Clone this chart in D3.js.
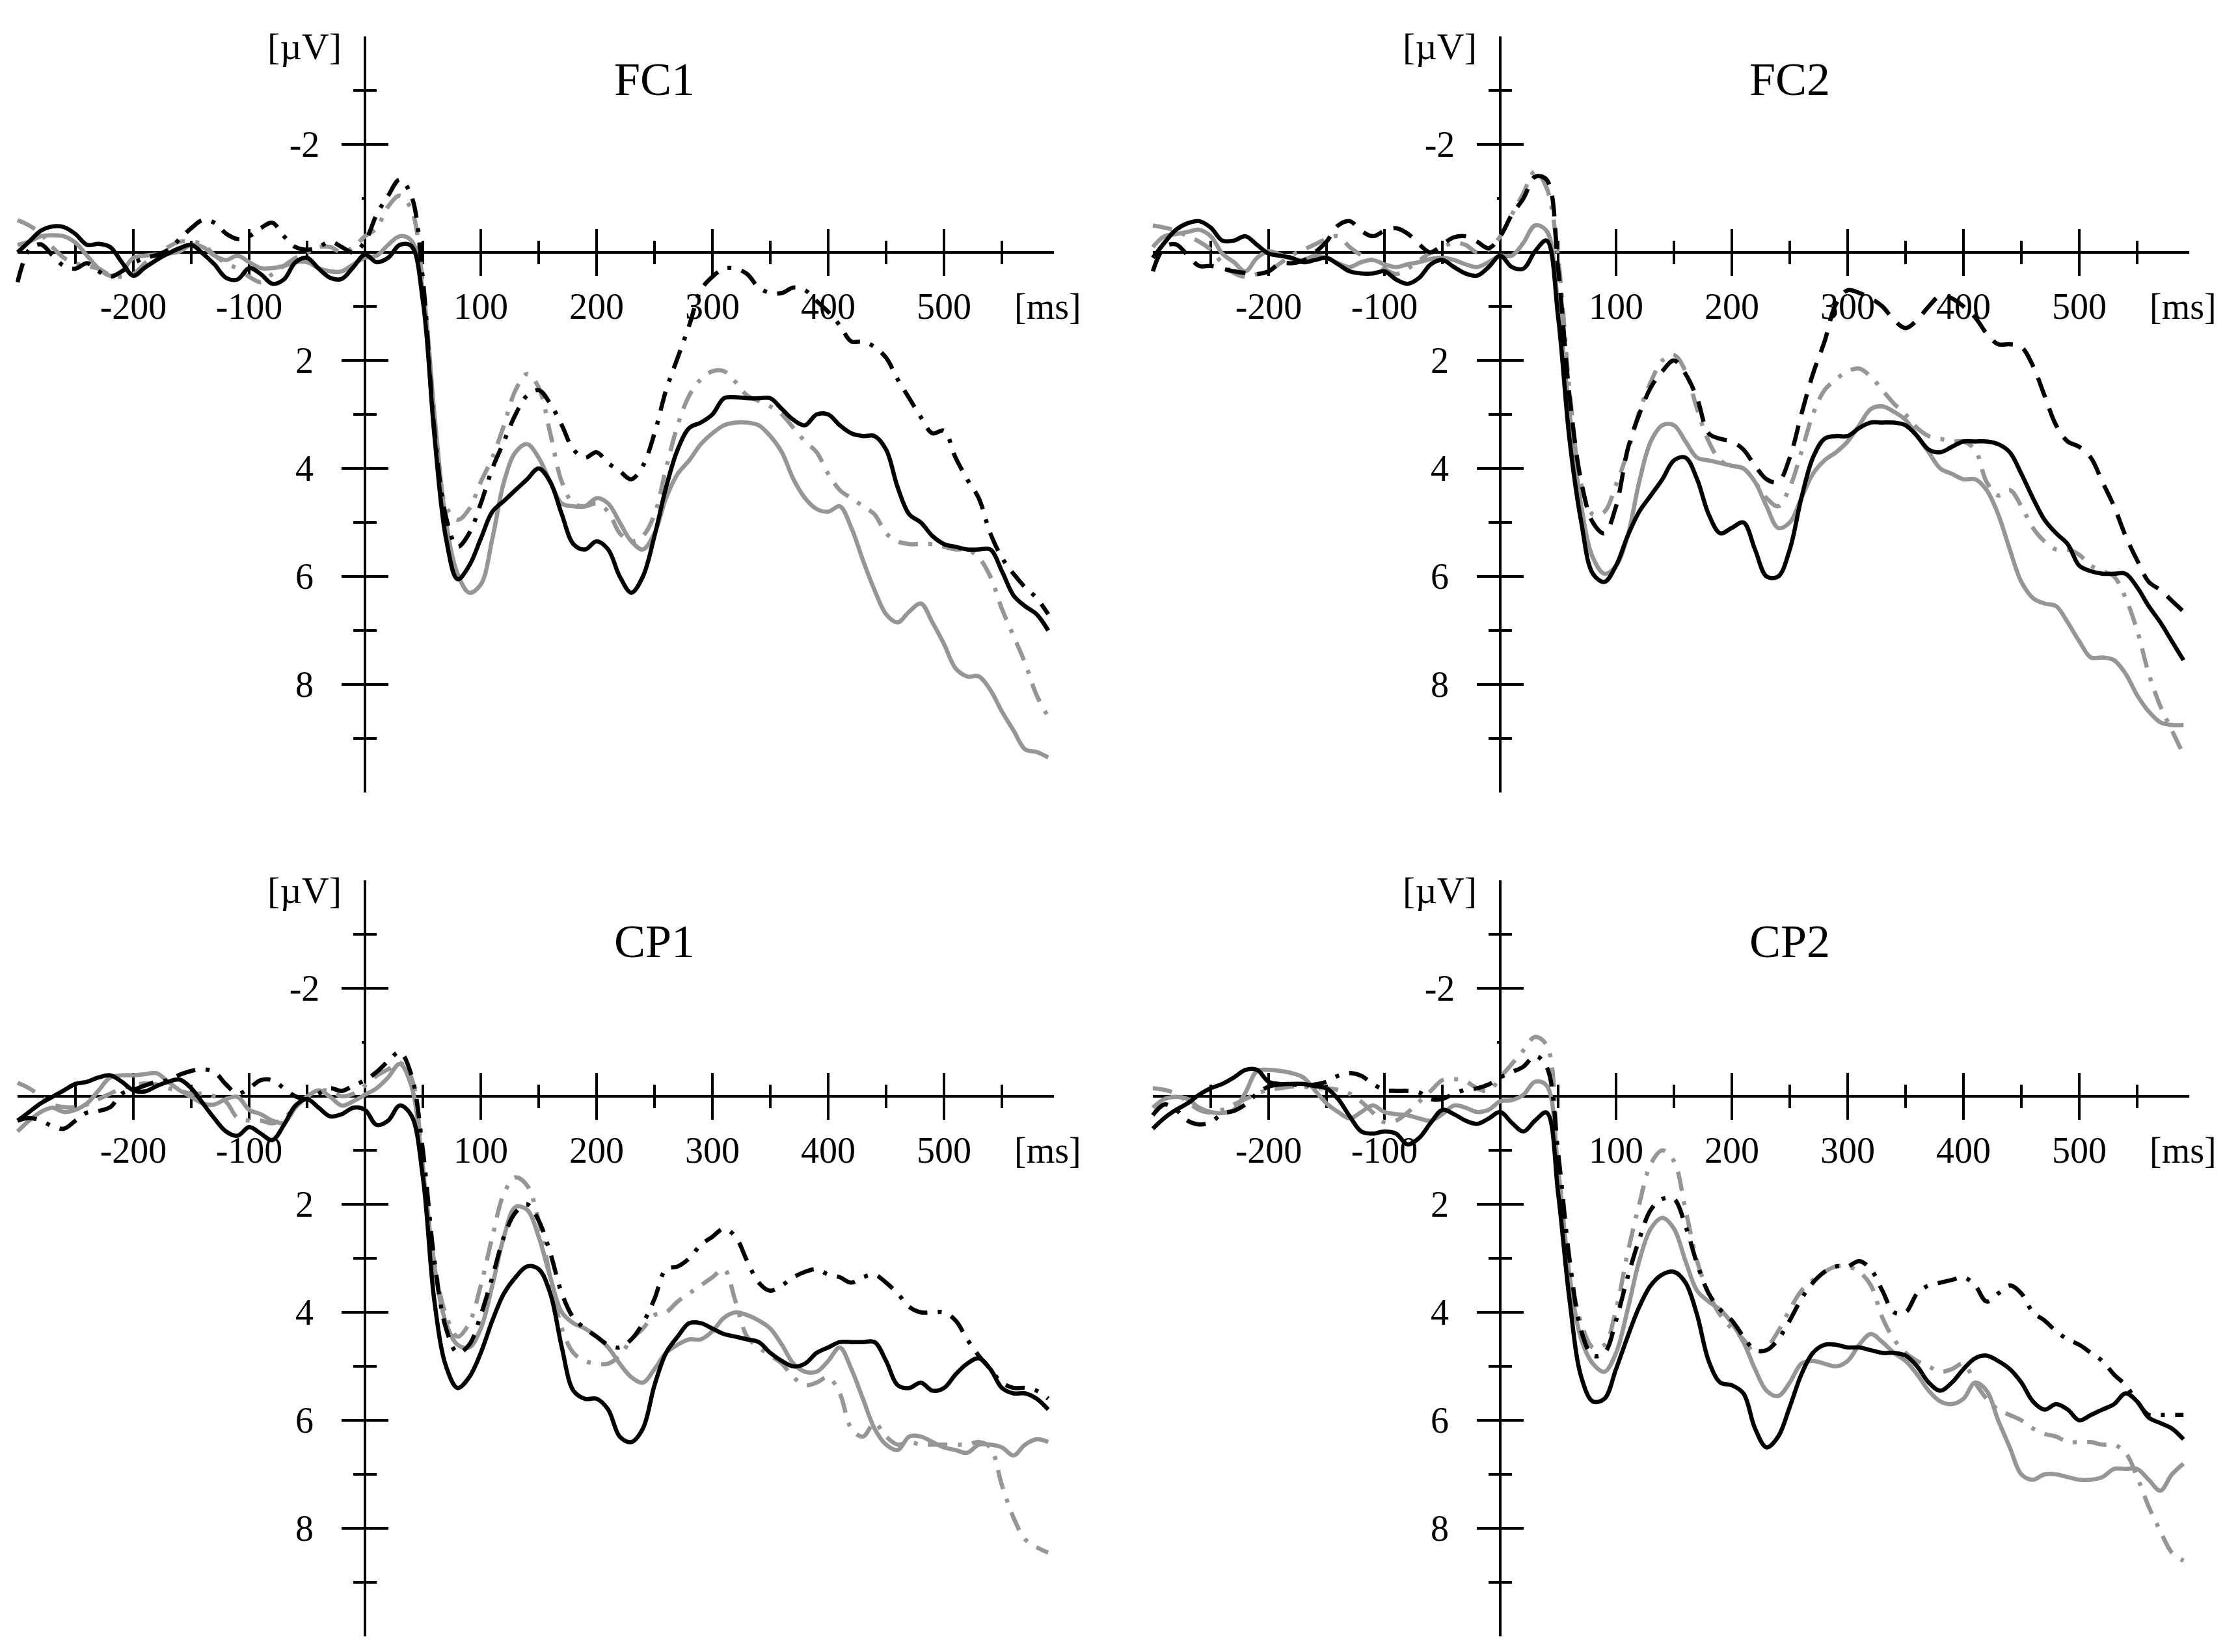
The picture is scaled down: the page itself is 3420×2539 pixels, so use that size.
<!DOCTYPE html>
<html>
<head>
<meta charset="utf-8">
<script src="https://cdn.jsdelivr.net/npm/d3@7/dist/d3.min.js"></script>
<style>
  html, body { margin: 0; padding: 0; background: #fff; }
  svg { display: block; }
  text { font-family: "Liberation Serif", "Times New Roman", serif; fill: #000; }
</style>
</head>
<body>
<svg id="chart" width="3420" height="2539"></svg>
<script>
// ---------- data ----------
const times = [-300,-290,-280,-270,-260,-250,-240,-230,-220,-210,-200,-190,-180,-170,-160,-150,-140,-130,-120,-110,-100,-90,-80,-70,-60,-50,-40,-30,-20,-10,0,10,20,30,40,50,60,70,80,90,100,110,120,130,140,150,160,170,180,190,200,210,220,230,240,250,260,270,280,290,300,310,320,330,340,350,360,370,380,390,400,410,420,430,440,450,460,470,480,490,500,510,520,530,540,550,560,570,580,590];

const xMajorTicks = [-200, -100, 100, 200, 300, 400, 500];
const xMinorTicks = [-250, -150, -50, 50, 150, 250, 350, 450, 550];
const yMajorTicks = [-2, 2, 4, 6, 8];
const yMinorTicks = [-3, 1, 3, 5, 7, 9];

const panelTitles = ["FC1", "FC2", "CP1", "CP2"];

// FC1
const fc1BlackSolid = [0.0,-0.2,-0.4,-0.48,-0.47,-0.34,-0.14,-0.16,-0.1,0.18,0.43,0.28,0.14,0.02,-0.08,-0.14,0.02,0.22,0.47,0.5,0.29,0.4,0.58,0.5,0.18,0.1,0.3,0.47,0.49,0.27,0.04,0.18,0.1,-0.14,-0.12,
  0.9,3.4,5.3,6.05,5.8,5.3,4.8,4.6,4.4,4.2,4.0,4.25,4.85,5.4,5.5,5.35,5.5,6.0,6.3,6.0,5.25,4.35,3.65,3.25,3.15,3.0,2.7,2.68,2.7,2.7,2.7,2.9,3.1,3.2,3.0,3.0,3.2,3.35,3.4,3.4,3.65,4.35,4.85,5.0,5.25,5.4,5.45,5.5,5.5,5.5,5.9,6.35,6.55,6.7,7.0];
const fc1GraySolid = [-0.14,-0.2,-0.3,-0.32,-0.3,-0.18,0.06,0.3,0.43,0.35,0.1,0.06,0.04,0.02,-0.02,-0.14,-0.1,0.06,0.14,0.06,0.18,0.29,0.29,0.25,0.18,0.18,0.29,0.35,0.35,0.22,0.1,0.06,-0.14,-0.3,-0.22,
  0.7,3.0,5.0,5.95,6.3,6.15,5.3,4.25,3.7,3.55,3.8,4.25,4.65,4.7,4.7,4.55,4.65,5.0,5.35,5.5,5.2,4.55,4.1,3.85,3.55,3.35,3.2,3.15,3.15,3.2,3.4,3.7,4.2,4.55,4.75,4.8,4.7,5.1,5.7,6.25,6.7,6.85,6.65,6.5,6.85,7.25,7.7,7.85,7.85,8.1,8.5,8.85,9.2,9.25,9.35];
const fc1BlackDash = [0.55,-0.05,-0.15,0.05,0.25,0.3,0.2,0.35,0.45,0.35,0.2,0.1,0.05,-0.05,-0.25,-0.45,-0.6,-0.55,-0.35,-0.25,-0.3,-0.45,-0.55,-0.3,-0.1,-0.05,-0.1,-0.2,-0.1,0.0,-0.2,-0.7,-1.05,-1.35,-1.05,
  0.5,3.3,4.9,5.45,5.2,4.65,4.0,3.5,3.0,2.65,2.55,2.8,3.2,3.65,3.8,3.7,3.9,4.05,4.2,3.95,3.35,2.55,1.95,1.35,0.7,0.45,0.3,0.3,0.4,0.65,0.75,0.75,0.65,0.7,0.9,1.1,1.35,1.65,1.65,1.75,1.95,2.35,2.7,3.05,3.35,3.3,3.8,4.2,4.55,5.2,5.65,5.95,6.2,6.4,6.7];
const fc1GrayDash = [-0.6,-0.5,-0.35,-0.1,0.1,0.2,0.25,0.3,0.42,0.45,0.4,0.2,0.05,-0.1,-0.2,-0.2,-0.15,0.05,0.2,0.3,0.45,0.55,0.4,0.25,0.1,0.0,-0.1,-0.1,0.0,-0.1,-0.3,-0.45,-0.85,-1.05,-0.8,
  0.6,3.2,4.7,4.95,4.75,4.25,3.8,3.2,2.55,2.25,2.5,3.35,4.25,4.65,4.7,4.65,4.8,5.2,5.35,5.25,4.85,4.0,3.2,2.65,2.35,2.2,2.2,2.4,2.65,2.75,2.85,3.0,3.25,3.5,3.7,4.1,4.4,4.55,4.7,4.85,5.2,5.35,5.4,5.4,5.4,5.45,5.5,5.5,5.65,6.0,6.6,7.1,7.6,8.2,8.6];

// FC2
const fc2BlackSolid = [0.1,-0.18,-0.42,-0.54,-0.58,-0.46,-0.22,-0.22,-0.3,-0.14,0.02,0.06,0.1,0.18,0.14,0.1,0.22,0.35,0.39,0.39,0.35,0.5,0.58,0.47,0.22,0.14,0.27,0.39,0.43,0.27,0.06,0.27,0.3,-0.02,-0.22,
  1.2,3.5,5.0,5.95,6.1,5.8,5.25,4.8,4.5,4.2,3.85,3.8,4.2,4.85,5.2,5.1,5.0,5.5,6.0,6.0,5.5,4.55,3.8,3.45,3.4,3.4,3.25,3.15,3.15,3.15,3.2,3.4,3.65,3.7,3.6,3.5,3.5,3.5,3.55,3.7,4.1,4.55,4.95,5.2,5.4,5.8,5.9,5.95,5.95,5.95,6.2,6.55,6.85,7.2,7.55];
const fc2GraySolid = [-0.1,-0.3,-0.34,-0.38,-0.42,-0.3,0.02,0.18,0.35,0.1,-0.02,0.04,0.12,0.14,0.06,0.1,0.2,0.27,0.18,0.14,0.22,0.27,0.22,0.18,0.12,0.1,0.14,0.22,0.27,0.18,0.06,0.06,-0.18,-0.5,-0.4,
  1.0,3.0,4.7,5.65,5.95,5.8,5.25,4.25,3.5,3.2,3.2,3.5,3.8,3.85,3.9,3.95,4.0,4.25,4.7,5.1,5.0,4.55,4.1,3.85,3.7,3.5,3.2,2.9,2.85,2.95,3.1,3.4,3.7,4.0,4.1,4.2,4.2,4.4,4.85,5.5,6.1,6.4,6.5,6.55,6.85,7.2,7.5,7.5,7.55,7.8,8.2,8.5,8.7,8.75,8.75];
const fc2BlackDash = [0.35,-0.1,-0.15,0.05,0.25,0.25,0.3,0.35,0.38,0.4,0.35,0.2,0.2,0.15,0.0,-0.2,-0.5,-0.58,-0.4,-0.3,-0.4,-0.45,-0.35,-0.15,0.0,-0.15,-0.28,-0.3,-0.2,-0.08,-0.3,-0.7,-1.0,-1.4,-1.35,
  0.3,2.7,4.25,5.0,5.2,4.7,3.65,3.0,2.5,2.2,2.0,2.25,2.7,3.35,3.45,3.5,3.65,3.95,4.2,4.25,3.8,3.0,2.25,1.65,0.95,0.7,0.75,0.85,1.0,1.25,1.4,1.25,1.0,0.8,0.85,1.0,1.2,1.5,1.7,1.7,1.75,2.1,2.65,3.2,3.5,3.6,3.8,4.25,4.7,5.25,5.7,6.1,6.25,6.45,6.65];
const fc2GrayDash = [-0.5,-0.46,-0.4,-0.3,-0.2,-0.05,0.2,0.38,0.45,0.4,0.35,0.2,0.05,-0.05,-0.15,-0.25,-0.3,-0.1,0.05,0.15,0.3,0.4,0.3,0.15,0.0,-0.1,-0.18,-0.14,0.0,-0.05,-0.3,-0.7,-1.1,-1.5,-1.2,
  0.1,2.6,4.3,4.85,4.8,4.3,3.7,2.95,2.4,2.0,1.9,2.2,2.9,3.5,3.85,3.95,4.0,4.25,4.55,4.7,4.35,3.7,3.0,2.55,2.35,2.2,2.15,2.3,2.55,2.8,3.0,3.25,3.4,3.45,3.5,3.5,3.65,4.25,4.5,4.4,4.7,5.1,5.35,5.5,5.5,5.6,5.8,5.9,6.0,6.4,7.0,7.8,8.4,8.85,9.3];

// CP1
const cp1BlackSolid = [0.45,0.29,0.13,0.01,-0.11,-0.23,-0.27,-0.35,-0.39,-0.27,-0.11,-0.09,-0.19,-0.27,-0.31,-0.15,0.13,0.41,0.65,0.73,0.57,0.69,0.81,0.53,0.17,0.05,0.21,0.37,0.33,0.21,0.25,0.53,0.45,0.17,0.35,
  1.5,3.8,5.0,5.4,5.2,4.75,4.15,3.65,3.35,3.15,3.2,3.65,4.65,5.45,5.6,5.6,5.8,6.3,6.4,6.15,5.35,4.75,4.45,4.2,4.2,4.3,4.4,4.45,4.5,4.55,4.75,4.9,5.0,4.95,4.75,4.65,4.55,4.55,4.55,4.55,4.9,5.35,5.4,5.3,5.45,5.4,5.15,4.95,4.85,5.05,5.4,5.5,5.5,5.6,5.8];
const cp1GraySolid = [0.65,0.45,0.29,0.21,0.29,0.25,0.13,-0.11,-0.35,-0.39,-0.39,-0.41,-0.43,-0.27,-0.11,0.01,0.13,0.15,0.05,0.01,0.25,0.33,0.45,0.49,0.21,0.01,-0.11,0.01,0.17,0.09,-0.03,-0.15,-0.35,-0.6,-0.2,
  1.35,3.15,4.2,4.6,4.65,4.3,3.5,2.6,2.05,2.1,2.6,3.35,4.0,4.2,4.3,4.45,4.65,4.95,5.2,5.3,5.05,4.75,4.6,4.5,4.5,4.35,4.1,4.0,4.05,4.15,4.3,4.6,4.95,5.1,5.1,4.9,4.65,5.05,5.6,6.15,6.45,6.55,6.3,6.3,6.4,6.5,6.55,6.6,6.45,6.45,6.5,6.65,6.45,6.35,6.4];
const cp1BlackDash = [0.45,0.4,0.45,0.55,0.6,0.45,0.3,0.27,0.2,-0.05,-0.12,-0.2,-0.27,-0.3,-0.4,-0.47,-0.5,-0.45,-0.22,-0.05,-0.15,-0.3,-0.3,-0.15,0.0,0.05,-0.05,-0.15,-0.1,-0.2,-0.3,-0.45,-0.65,-0.82,-0.4,
  1.0,3.05,4.3,4.75,4.6,4.05,3.35,2.6,2.15,2.0,2.3,2.9,3.65,4.1,4.3,4.45,4.6,4.65,4.5,4.2,3.75,3.2,3.15,3.0,2.75,2.6,2.45,2.6,3.05,3.45,3.6,3.5,3.35,3.25,3.2,3.3,3.35,3.45,3.35,3.3,3.45,3.65,3.9,4.0,4.0,4.0,4.15,4.5,4.8,5.05,5.3,5.4,5.4,5.45,5.6];
const cp1GrayDash = [-0.25,-0.15,0.0,0.15,0.2,0.2,0.15,0.05,-0.05,-0.15,-0.2,-0.24,-0.22,-0.15,-0.1,-0.05,-0.05,0.0,0.1,0.4,0.45,0.45,0.5,0.4,0.2,0.0,-0.1,-0.1,0.0,-0.05,-0.2,-0.38,-0.5,-0.62,-0.35,
  1.3,3.1,4.05,4.45,4.2,3.5,2.6,1.8,1.5,1.65,2.3,3.35,4.3,4.75,4.9,4.95,4.95,4.8,4.5,4.3,4.05,4.0,3.8,3.65,3.5,3.35,3.2,3.8,4.45,4.65,4.8,4.95,5.2,5.35,5.3,5.2,5.5,6.15,6.3,6.05,6.3,6.45,6.4,6.45,6.45,6.45,6.45,6.45,6.4,6.5,7.2,7.8,8.2,8.35,8.45];

// CP2
const cp2BlackSolid = [0.6,0.4,0.25,0.13,-0.03,-0.15,-0.23,-0.35,-0.49,-0.49,-0.27,-0.23,-0.23,-0.23,-0.19,-0.15,0.05,0.37,0.65,0.69,0.65,0.69,0.89,0.77,0.49,0.25,0.33,0.45,0.51,0.41,0.29,0.49,0.65,0.45,0.3,
  1.8,3.8,5.2,5.65,5.6,5.05,4.45,3.9,3.5,3.3,3.25,3.45,4.05,4.9,5.3,5.35,5.5,6.15,6.5,6.3,5.75,5.15,4.75,4.6,4.6,4.65,4.65,4.7,4.75,4.75,4.8,5.0,5.3,5.45,5.3,5.05,4.85,4.8,4.9,5.05,5.3,5.65,5.8,5.7,5.8,6.0,5.9,5.8,5.7,5.5,5.65,5.95,6.05,6.15,6.35];
const cp2GraySolid = [0.21,0.05,0.01,0.05,0.21,0.29,0.31,0.25,-0.07,-0.47,-0.49,-0.47,-0.43,-0.35,-0.11,0.13,0.29,0.41,0.29,0.17,0.29,0.33,0.35,0.41,0.45,0.33,0.17,0.21,0.29,0.25,0.09,0.07,-0.03,-0.27,-0.2,
  1.35,3.35,4.5,4.95,5.1,4.75,3.95,3.05,2.45,2.25,2.45,3.05,3.6,3.8,3.95,4.2,4.55,5.05,5.45,5.55,5.3,4.95,4.9,4.95,5.0,4.9,4.6,4.4,4.55,4.75,4.9,5.15,5.45,5.65,5.7,5.6,5.3,5.45,6.0,6.5,7.0,7.1,7.0,7.0,7.05,7.1,7.1,7.05,6.9,6.9,6.9,7.1,7.3,7.0,6.8];
const cp2BlackDash = [0.35,0.15,0.25,0.45,0.52,0.48,0.32,0.27,0.15,-0.05,-0.18,-0.22,-0.22,-0.2,-0.22,-0.27,-0.38,-0.43,-0.38,-0.23,-0.12,-0.1,-0.1,-0.07,0.05,0.05,-0.05,-0.12,-0.15,-0.22,-0.35,-0.45,-0.55,-0.75,-0.55,
  1.05,3.05,4.35,4.8,4.75,4.15,3.35,2.65,2.1,1.9,1.9,2.4,3.1,3.65,3.95,4.15,4.45,4.7,4.7,4.5,4.15,3.75,3.45,3.25,3.15,3.15,3.05,3.2,3.6,4.0,4.0,3.65,3.5,3.45,3.4,3.35,3.5,3.8,3.65,3.5,3.65,4.0,4.15,4.35,4.5,4.6,4.75,4.9,5.15,5.35,5.65,5.9,5.9,5.9,5.9];
const cp2GrayDash = [-0.15,-0.12,-0.05,0.1,0.25,0.3,0.25,0.15,0.05,-0.05,-0.12,-0.15,-0.18,-0.18,-0.15,-0.15,-0.12,-0.05,0.1,0.3,0.48,0.45,0.3,0.1,-0.1,-0.3,-0.32,-0.28,-0.15,-0.1,-0.35,-0.6,-0.85,-1.1,-0.95,
  1.2,3.2,4.2,4.65,4.6,3.95,2.9,2.0,1.25,1.0,1.2,2.1,3.05,3.65,4.05,4.3,4.5,4.75,4.65,4.35,3.95,3.6,3.4,3.25,3.15,3.15,3.25,3.5,4.1,4.5,4.75,4.9,5.0,5.1,5.05,4.95,5.3,5.6,5.8,5.9,6.0,6.15,6.25,6.3,6.4,6.4,6.4,6.45,6.45,6.6,7.05,7.6,8.05,8.45,8.6];

// ---------- styles & layout ----------
const BLACK = "#000000", GRAY = "#969696";
const DASHDOT = "30,16,6,16";
const DASHED = "32,18";

const panels = [
  { title: panelTitles[0], ox: 561, oy: 388, titleDy: -242,
    series: [ {v: fc1GraySolid, c: GRAY, d: null}, {v: fc1GrayDash, c: GRAY, d: DASHDOT},
              {v: fc1BlackDash, c: BLACK, d: DASHDOT}, {v: fc1BlackSolid, c: BLACK, d: null} ] },
  { title: panelTitles[1], ox: 2306, oy: 388, titleDy: -242,
    series: [ {v: fc2GraySolid, c: GRAY, d: null}, {v: fc2GrayDash, c: GRAY, d: DASHDOT},
              {v: fc2BlackDash, c: BLACK, d: DASHED}, {v: fc2BlackSolid, c: BLACK, d: null} ] },
  { title: panelTitles[2], ox: 561, oy: 1685, titleDy: -214,
    series: [ {v: cp1GraySolid, c: GRAY, d: null}, {v: cp1GrayDash, c: GRAY, d: DASHDOT},
              {v: cp1BlackDash, c: BLACK, d: DASHDOT}, {v: cp1BlackSolid, c: BLACK, d: null} ] },
  { title: panelTitles[3], ox: 2306, oy: 1685, titleDy: -214,
    series: [ {v: cp2GraySolid, c: GRAY, d: null}, {v: cp2GrayDash, c: GRAY, d: DASHDOT},
              {v: cp2BlackDash, c: BLACK, d: DASHDOT}, {v: cp2BlackSolid, c: BLACK, d: null} ] }
];

const svg = d3.select("#chart");
svg.append("rect").attr("width", 3420).attr("height", 2539).attr("fill", "#fff");

const PX_PER_MS = 1.78, PX_PER_UV = 83;
const AXW = 4, MAJ = 36, MIN = 18;

panels.forEach(p => {
  const x = d3.scaleLinear().domain([-300, 595])
    .range([p.ox - 300 * PX_PER_MS, p.ox + 595 * PX_PER_MS]);
  const y = d3.scaleLinear().domain([-4, 10])
    .range([p.oy - 4 * PX_PER_UV, p.oy + 10 * PX_PER_UV]);
  const g = svg.append("g");

  // axes lines
  g.append("line").attr("x1", x(-300)).attr("x2", x(595)).attr("y1", y(0)).attr("y2", y(0))
    .attr("stroke", "#000").attr("stroke-width", AXW);
  g.append("line").attr("x1", x(0)).attr("x2", x(0)).attr("y1", y(-4)).attr("y2", y(10))
    .attr("stroke", "#000").attr("stroke-width", AXW);

  // x ticks
  g.selectAll(".xmaj").data(xMajorTicks).enter().append("line")
    .attr("x1", d => x(d)).attr("x2", d => x(d))
    .attr("y1", y(0) - MAJ).attr("y2", y(0) + MAJ)
    .attr("stroke", "#000").attr("stroke-width", AXW);
  g.selectAll(".xmin").data(xMinorTicks).enter().append("line")
    .attr("x1", d => x(d)).attr("x2", d => x(d))
    .attr("y1", y(0) - MIN).attr("y2", y(0) + MIN)
    .attr("stroke", "#000").attr("stroke-width", AXW);
  g.selectAll(".xlab").data(xMajorTicks).enter().append("text")
    .attr("x", d => x(d)).attr("y", y(0) + 102)
    .attr("text-anchor", "middle").attr("font-size", 56).text(d => d);
  g.append("text").attr("x", p.ox + 998).attr("y", y(0) + 102)
    .attr("font-size", 56).text("[ms]");

  // y ticks
  g.selectAll(".ymaj").data(yMajorTicks).enter().append("line")
    .attr("x1", x(0) - MAJ).attr("x2", x(0) + MAJ)
    .attr("y1", d => y(d)).attr("y2", d => y(d))
    .attr("stroke", "#000").attr("stroke-width", AXW);
  g.selectAll(".ymin").data(yMinorTicks).enter().append("line")
    .attr("x1", x(0) - MIN).attr("x2", x(0) + MIN)
    .attr("y1", d => y(d)).attr("y2", d => y(d))
    .attr("stroke", "#000").attr("stroke-width", AXW);
  g.append("line").attr("x1", x(0) - 5).attr("x2", x(0))
    .attr("y1", y(-1)).attr("y2", y(-1)).attr("stroke", "#000").attr("stroke-width", AXW);
  g.selectAll(".ylab").data(yMajorTicks).enter().append("text")
    .attr("x", x(0) - 93).attr("y", d => y(d) + 19)
    .attr("text-anchor", "middle").attr("font-size", 56).text(d => d);
  g.append("text").attr("x", x(0) - 36).attr("y", p.oy - 297)
    .attr("text-anchor", "end").attr("font-size", 58).text("[\u00B5V]");

  // title
  g.append("text").attr("x", x(250)).attr("y", p.oy + p.titleDy)
    .attr("text-anchor", "middle").attr("font-size", 72).text(p.title);

  // data lines
  const line = d3.line().x((d, i) => x(times[i])).y(d => y(d)).curve(d3.curveCatmullRom.alpha(0.5));
  p.series.forEach(s => {
    g.append("path").datum(s.v).attr("d", line)
      .attr("fill", "none").attr("stroke", s.c).attr("stroke-width", 6.5)
      .attr("stroke-linejoin", "round")
      .attr("stroke-dasharray", s.d);
  });
});
</script>
</body>
</html>
